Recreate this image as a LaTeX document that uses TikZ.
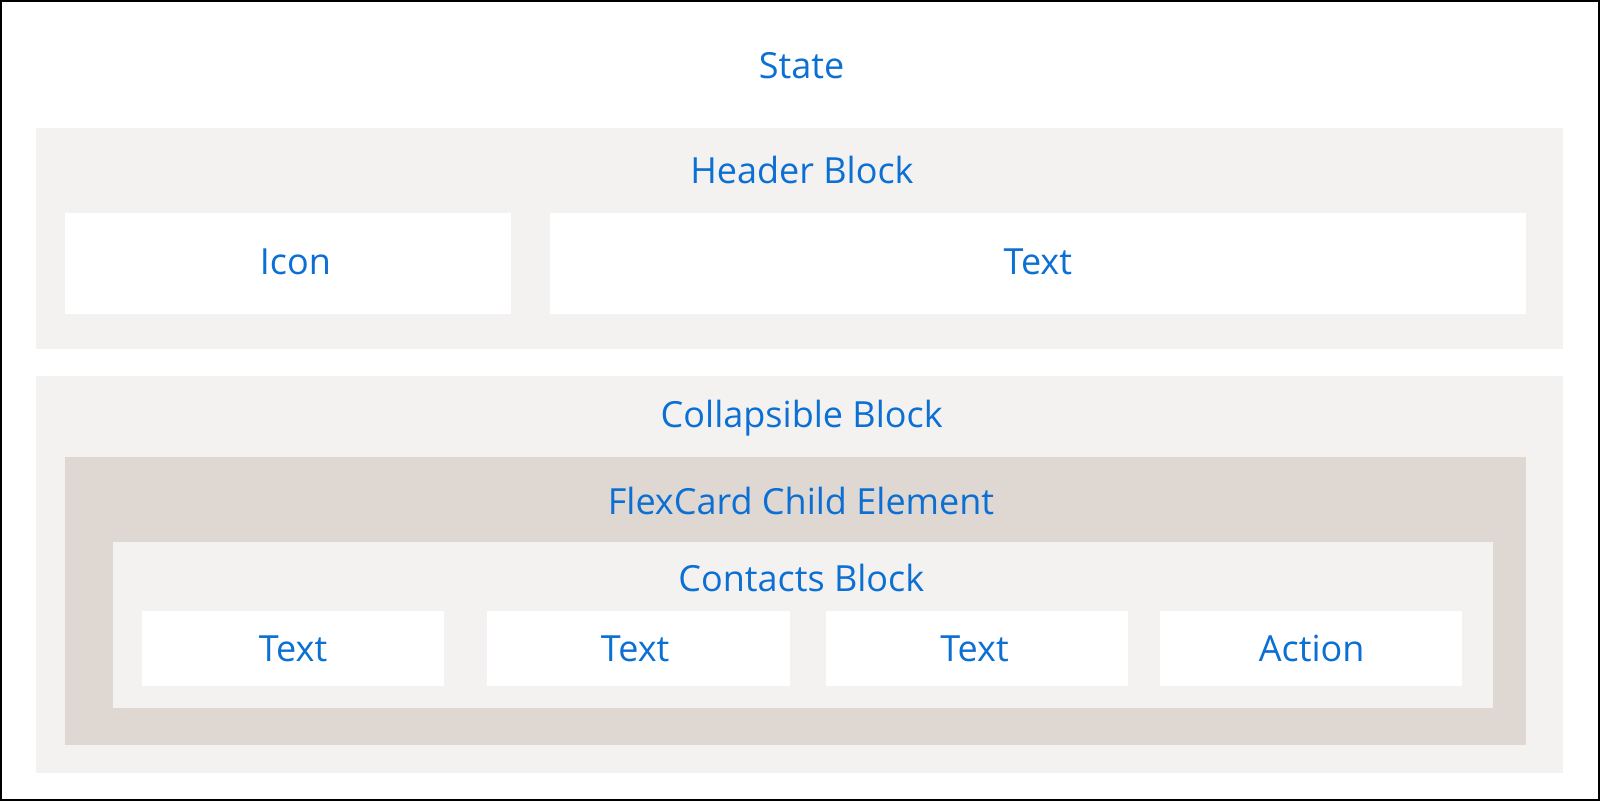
\documentclass[tikz,border=0pt]{standalone}
\usepackage{fontspec}
\setmainfont{Open Sans}
\definecolor{sfblue}{HTML}{0B6FD3}
\definecolor{lightbg}{HTML}{F3F2F1}
\definecolor{tanbg}{HTML}{DFD7D2}
\tikzset{
  panel/.style={draw=none, inner sep=0pt, outer sep=0pt},
  lightpanel/.style={panel, fill=lightbg},
  tanpanel/.style={panel, fill=tanbg},
  whitepanel/.style={panel, fill=white},
  lbl/.style={inner sep=0pt, outer sep=0pt, anchor=base, text=sfblue, font=\fontsize{36}{42}\selectfont},
}
\begin{document}
\begin{tikzpicture}[x=1pt,y=-1pt]
\useasboundingbox (0,0) rectangle (1600,801);
\node[panel, draw=black, line width=2pt, minimum width=1598pt, minimum height=799pt] (state) at (800,400.5) {};
\node[lbl] (statelbl) at (801.5,78) {State};
% header block
\node[lightpanel, minimum width=1526.8pt, minimum height=221pt] (header) at (799.1,238) {};
\node[lbl] (headerlbl) at (802,183.5) {Header Block};
\node[whitepanel, minimum width=446.2pt, minimum height=101.5pt] (icon) at (287.6,263.25) {};
\node[lbl] (iconlbl) at (295.4,274) {Icon};
\node[whitepanel, minimum width=975.8pt, minimum height=101.5pt] (htext) at (1037.6,263.25) {};
\node[lbl] (htextlbl) at (1037.8,274) {Text};
% collapsible block
\node[lightpanel, minimum width=1526.8pt, minimum height=397pt] (coll) at (799.1,574.2) {};
\node[lbl] (colllbl) at (801.7,427) {Collapsible Block};
\node[tanpanel, minimum width=1461pt, minimum height=288pt] (flex) at (795.5,600.7) {};
\node[lbl] (flexlbl) at (801,514.3) {FlexCard Child Element};
\node[lightpanel, minimum width=1379.7pt, minimum height=166.6pt] (contacts) at (802.85,625) {};
\node[lbl] (contactslbl) at (801.3,591.3) {Contacts Block};
\node[whitepanel, minimum width=302pt, minimum height=74.7pt] (t1) at (293,648.5) {};
\node[lbl] (t1lbl) at (293,661.5) {Text};
\node[whitepanel, minimum width=302.7pt, minimum height=74.7pt] (t2) at (638.35,648.5) {};
\node[lbl] (t2lbl) at (635.2,661.5) {Text};
\node[whitepanel, minimum width=302pt, minimum height=74.7pt] (t3) at (977,648.5) {};
\node[lbl] (t3lbl) at (974.5,661.5) {Text};
\node[whitepanel, minimum width=301.5pt, minimum height=74.7pt] (act) at (1310.75,648.5) {};
\node[lbl] (actlbl) at (1311.7,661.5) {Action};
\end{tikzpicture}
\end{document}
